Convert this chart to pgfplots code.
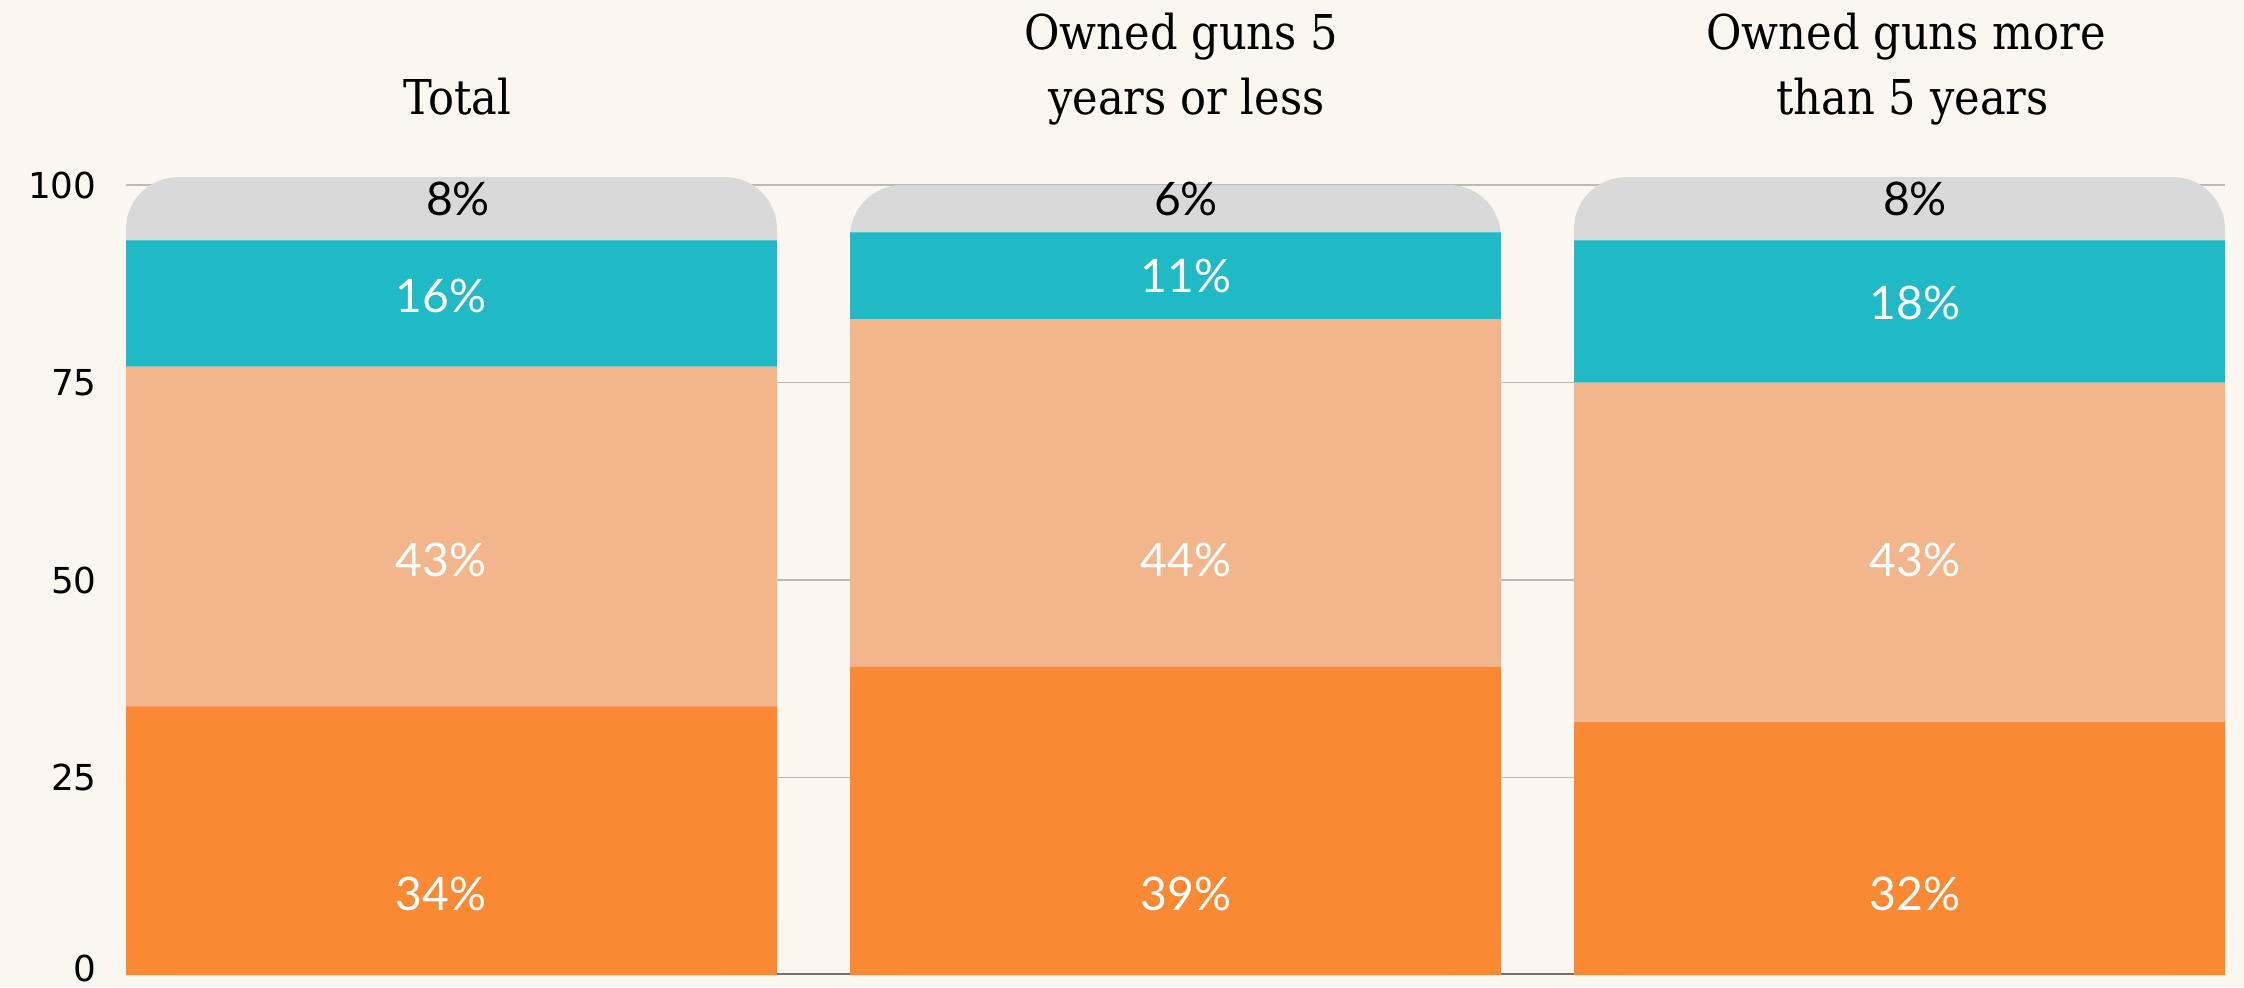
\documentclass[border=0pt]{standalone}
\usepackage{fontspec}
\setmainfont{DejaVu Serif}[FakeStretch=0.9]
\newfontfamily\labelfont{Lato}
\newfontfamily\tickfont{DejaVu Sans}
\usepackage{pgfplots}
\pgfplotsset{compat=1.18}
\definecolor{bg}{HTML}{FBF6F0}
\definecolor{cOrange}{HTML}{FB8832}
\definecolor{cPeach}{HTML}{F3B58B}
\definecolor{cTeal}{HTML}{20BAC7}
\definecolor{cGray}{HTML}{D9D9D9}
\definecolor{cGrid}{HTML}{BDBAB5}
\definecolor{cBase}{HTML}{707070}
\pgfplotsset{common/.style={width=839.6pt,height=319.16pt,scale only axis,
  xmin=-0.4496,xmax=2.4496,ymin=0,ymax=101,at={(0,0)},anchor=south west}}
\newcommand{\lab}{\labelfont\fontsize{18.5}{20}\selectfont}
\newcommand{\ttl}{\fontsize{19.2}{22}\selectfont}
\begin{document}
\begin{tikzpicture}
\fill[bg] (-50.4pt,-4.8pt) rectangle (847.2pt,390pt);
% background axis: grid, ticks, rounded grey top segments
\begin{axis}[common,
  axis line style={draw=none},
  xtick=\empty,
  ytick={25,50,75,100}, yticklabels={25,50,75,100},
  extra y ticks={0.13}, extra y tick labels={0},
  extra y tick style={grid style={cBase,line width=0.9pt},yticklabel style={yshift=2pt}},
  major tick length=0pt,
  ymajorgrids, grid style={cGrid,line width=0.7pt},
  yticklabel style={font=\tickfont\fontsize{14.3}{16}\selectfont,inner sep=0pt,xshift=-11.6pt,anchor=east},
  /pgf/number format/assume math mode=true]
\addplot[ybar, bar shift=0pt, bar width=260.4pt, fill=cGray, draw=none, rounded corners=20.8pt]
  coordinates {(0,101) (1,100) (2,101)};
\end{axis}
% stacked segments
\begin{axis}[common, hide axis, ybar stacked, bar width=260.4pt]
\addplot[fill=cOrange, draw=none] coordinates {(0,34) (1,39) (2,32)};
\addplot[fill=cPeach, draw=none] coordinates {(0,43) (1,44) (2,43)};
\addplot[fill=cTeal, draw=none] coordinates {(0,16) (1,11) (2,18)};
\end{axis}
% labels and titles
\begin{axis}[common, hide axis, clip=false]
\addplot[draw=none, mark=none, forget plot] coordinates {(0,0) (2,100)};
\node[font=\lab,text=white] at (axis cs:-0.0145,10.3) {34\%};
\node[font=\lab,text=white] at (axis cs:-0.0145,52.5) {43\%};
\node[font=\lab,text=white] at (axis cs:-0.0145,86.0) {16\%};
\node[font=\lab,text=black] at (axis cs:0.009,98.2) {8\%};
\node[font=\lab,text=white] at (axis cs:1.0145,10.3) {39\%};
\node[font=\lab,text=white] at (axis cs:1.0145,52.5) {44\%};
\node[font=\lab,text=white] at (axis cs:1.0145,88.5) {11\%};
\node[font=\lab,text=black] at (axis cs:1.0145,98.2) {6\%};
\node[font=\lab,text=white] at (axis cs:2.0214,10.3) {32\%};
\node[font=\lab,text=white] at (axis cs:2.0214,52.5) {43\%};
\node[font=\lab,text=white] at (axis cs:2.0214,85.1) {18\%};
\node[font=\lab,text=black] at (axis cs:2.0214,98.2) {8\%};
\node[font=\ttl,anchor=base] at (axis cs:0.008,108.9) {Total};
\node[font=\ttl,anchor=base] at (axis cs:1.008,117.1) {Owned guns 5};
\node[font=\ttl,anchor=base] at (axis cs:1.015,108.9) {years or less};
\node[font=\ttl,anchor=base] at (axis cs:2.009,117.1) {Owned guns more};
\node[font=\ttl,anchor=base] at (axis cs:2.018,108.9) {than 5 years};
\end{axis}
\pgfresetboundingbox
\useasboundingbox (-50.4pt,-4.8pt) rectangle (847.2pt,390pt);
\end{tikzpicture}
\end{document}
